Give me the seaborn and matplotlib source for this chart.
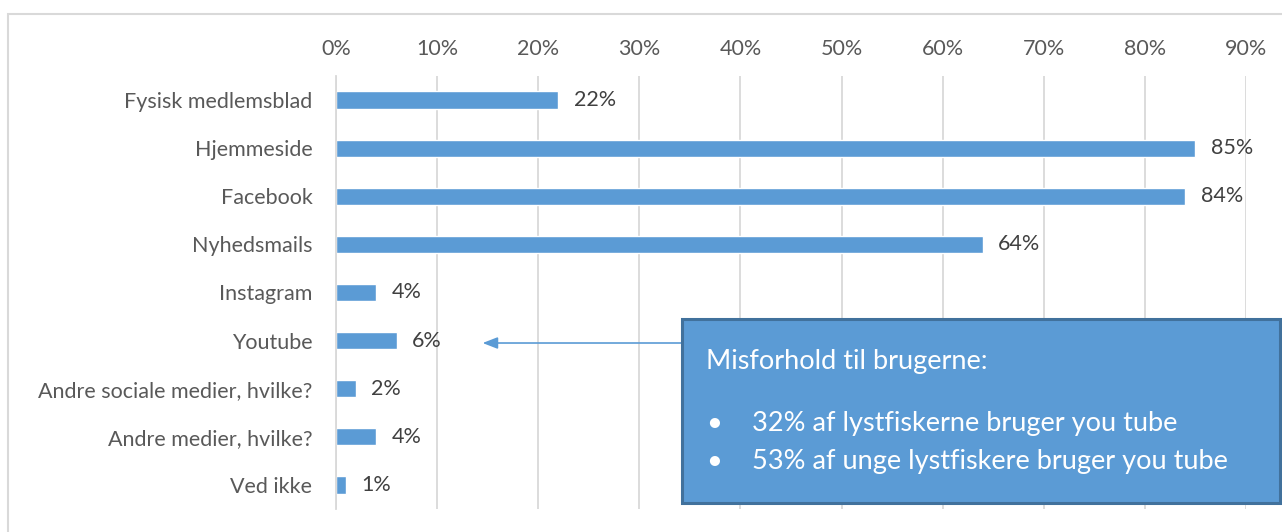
import matplotlib
matplotlib.use('Agg')
import matplotlib.pyplot as plt
import pandas as pd
import seaborn as sns
from matplotlib.patches import Rectangle
from matplotlib.ticker import FixedLocator, PercentFormatter

# data
categories = ['Fysisk medlemsblad', 'Hjemmeside', 'Facebook', 'Nyhedsmails',
              'Instagram', 'Youtube', 'Andre sociale medier, hvilke?',
              'Andre medier, hvilke?', 'Ved ikke']
values = [22, 85, 84, 64, 4, 6, 2, 4, 1]
x_ticks = [0, 10, 20, 30, 40, 50, 60, 70, 80, 90]
box_title = 'Misforhold til brugerne:'
box_points = ['32% af lystfiskerne bruger you tube',
              '53% af unge lystfiskere bruger you tube']

BLUE = '#5B9BD5'
GRID = '#D9D9D9'
FS = 15.5

sns.set_style('white')
plt.rcParams['font.family'] = ['Lato', 'DejaVu Sans']

df = pd.DataFrame({'kanal': categories, 'andel': values})

fig = plt.figure(figsize=(12.82, 5.32), dpi=100)
ax = fig.add_axes([336 / 1282, 1 - 509 / 532, 910 / 1282, 433 / 532])

sns.barplot(data=df, x='andel', y='kanal', color=BLUE, width=0.36,
            saturation=1, ax=ax)

ax.set_xlim(0, 90)
ax.set_ylim(len(categories) - 0.5, -0.5)
ax.set_xlabel('')
ax.set_ylabel('')

# ticks on top, percent labels
ax.xaxis.set_ticks_position('top')
ax.xaxis.set_label_position('top')
ax.set_xticks(x_ticks)
ax.xaxis.set_major_formatter(PercentFormatter(decimals=0))
ax.tick_params(axis='x', length=0, pad=12, labelsize=FS, labelcolor='#595959')
ax.tick_params(axis='y', which='major', length=0, pad=17, labelsize=FS,
               labelcolor='#595959')
ax.yaxis.set_minor_locator(FixedLocator([i - 0.5 for i in range(len(categories) + 1)]))
ax.tick_params(axis='y', which='minor', length=5, width=1, color=GRID)

ax.grid(axis='x', color=GRID, linewidth=1.3)
ax.set_axisbelow(True)
for s in ['top', 'right', 'bottom']:
    ax.spines[s].set_visible(False)
ax.spines['left'].set_color(GRID)
ax.spines['left'].set_linewidth(1.3)

# value labels
for i, v in enumerate(values):
    ax.text(v + 1.5, i, f'{v}%', va='center', ha='left', fontsize=FS,
            color='#404040')

# outer chart border
fig.patches.append(Rectangle((8 / 1282, -0.05), 1.1, 1 - 14 / 532 + 0.05,
                             transform=fig.transFigure, fill=False,
                             edgecolor=GRID, linewidth=1.5))

# callout box
bx0, by0 = 682 / 1282, 1 - 503 / 532
bw, bh = (1280 - 682) / 1282, (503 - 319) / 532
fig.patches.append(Rectangle((bx0, by0), bw, bh, transform=fig.transFigure,
                             facecolor=BLUE, edgecolor='#41719C',
                             linewidth=2.2, zorder=5))
fig.text(706 / 1282, 1 - 361 / 532, box_title, color='white', fontsize=19.5,
         va='center', ha='left', zorder=6)
for j, line in enumerate(box_points):
    yy = 1 - (424 + 38 * j) / 532
    fig.text(706 / 1282, yy, '\u2022', color='white', fontsize=19.5,
             va='center', ha='left', zorder=6)
    fig.text(752 / 1282, yy, line, color='white', fontsize=19.5,
             va='center', ha='left', zorder=6)

# arrow from box to the Youtube bar
ax.annotate('', xy=(14.5, 5.05), xycoords='data',
            xytext=(bx0, 1 - 343 / 532), textcoords='figure fraction',
            arrowprops=dict(arrowstyle='-|>,head_length=0.9,head_width=0.35',
                            color=BLUE, lw=1.2, shrinkA=0, shrinkB=0))

fig.savefig('out.png', dpi=100)
plt.close(fig)
